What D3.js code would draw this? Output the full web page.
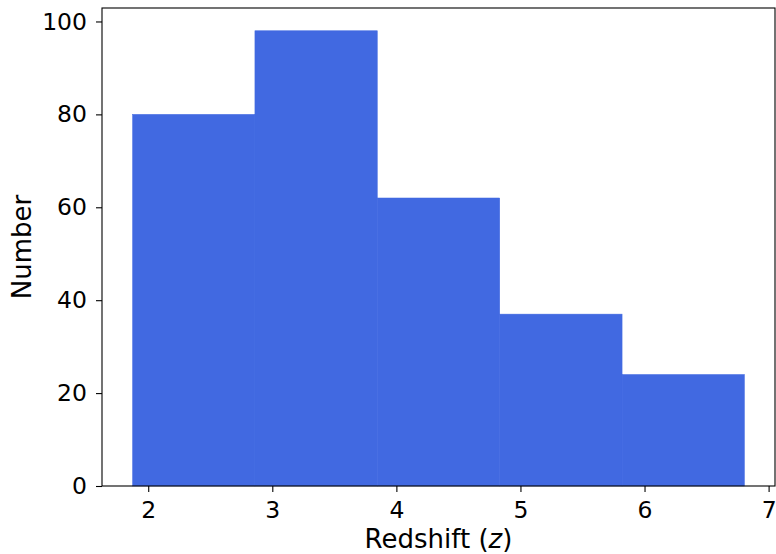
<!DOCTYPE html>
<html>
<head>
<meta charset="utf-8">
<script src="https://cdn.jsdelivr.net/npm/d3@7"></script>
<style>
  html, body { margin: 0; padding: 0; background: #fff; }
  svg { display: block; font-family: "DejaVu Sans", sans-serif; }
</style>
</head>
<body>
<svg id="chart" width="776" height="554"></svg>
<script>
// Histogram of source counts per redshift bin
const binEdges = [1.874, 2.860, 3.846, 4.833, 5.819, 6.805];
const counts = [80, 98, 62, 37, 24];
const xTicks = [2, 3, 4, 5, 6, 7];
const yTicks = [0, 20, 40, 60, 80, 100];

const bins = counts.map((c, i) => ({ x0: binEdges[i], x1: binEdges[i + 1], n: c }));

const margin = { left: 102, right: 1, top: 8, bottom: 68 };
const W = 776, H = 554;
const tickFont = "23.5px";
const labelFont = "26px";
const svg = d3.select("#chart");

const xMin = binEdges[0], xMax = binEdges[binEdges.length - 1];
const pad = (xMax - xMin) * 0.05;
const x = d3.scaleLinear()
  .domain([xMin - pad, xMax + pad])
  .range([margin.left, W - margin.right]);
const y = d3.scaleLinear()
  .domain([0, d3.max(counts) * 1.05])
  .range([H - margin.bottom, margin.top]);

// bars
svg.append("g")
  .selectAll("rect")
  .data(bins)
  .join("rect")
  .attr("x", d => x(d.x0))
  .attr("y", d => y(d.n))
  .attr("width", d => x(d.x1) - x(d.x0))
  .attr("height", d => y(0) - y(d.n))
  .attr("fill", "#4169e1")
  .attr("stroke", "#4169e1")
  .attr("stroke-width", 0.5);

// axes
const xAxis = d3.axisBottom(x).tickValues(xTicks).tickFormat(d3.format("d"))
  .tickSizeOuter(0).tickSize(6).tickPadding(9);
const yAxis = d3.axisLeft(y).tickValues(yTicks).tickFormat(d3.format("d"))
  .tickSizeOuter(0).tickSize(6).tickPadding(9);

const gx = svg.append("g")
  .attr("transform", `translate(0,${H - margin.bottom})`)
  .call(xAxis);
const gy = svg.append("g")
  .attr("transform", `translate(${margin.left},0)`)
  .call(yAxis);

[gx, gy].forEach(g => {
  g.select(".domain").remove();
  g.selectAll(".tick line").attr("stroke", "#000").attr("stroke-width", 1.1);
  g.selectAll(".tick text")
    .attr("fill", "#000")
    .style("font-size", tickFont)
    .style("font-family", "'DejaVu Sans', sans-serif");
});

// frame
svg.append("rect")
  .attr("x", margin.left)
  .attr("y", margin.top)
  .attr("width", W - margin.right - margin.left)
  .attr("height", H - margin.bottom - margin.top)
  .attr("fill", "none")
  .attr("stroke", "#000")
  .attr("stroke-width", 1.1);

// axis labels
const xl = svg.append("text")
  .attr("x", (margin.left + W - margin.right) / 2)
  .attr("y", 548)
  .attr("text-anchor", "middle")
  .style("font-size", labelFont)
  .attr("fill", "#000");
xl.append("tspan").text("Redshift (");
xl.append("tspan").style("font-style", "italic").text("z");
xl.append("tspan").text(")");

svg.append("text")
  .attr("transform", `translate(31,${(margin.top + H - margin.bottom) / 2}) rotate(-90)`)
  .attr("text-anchor", "middle")
  .style("font-size", labelFont)
  .attr("fill", "#000")
  .text("Number");
</script>
</body>
</html>
